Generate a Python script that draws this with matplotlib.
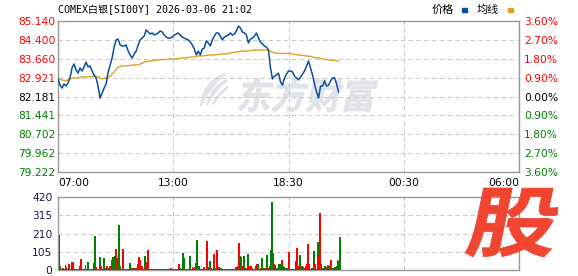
import matplotlib
matplotlib.use('Agg')
import matplotlib.pyplot as plt
import numpy as np
from matplotlib.textpath import TextPath
from matplotlib.patches import PathPatch, Rectangle
from matplotlib.path import Path
from matplotlib.font_manager import FontProperties
from matplotlib.transforms import Affine2D, IdentityTransform

plt.rcParams['font.family'] = ['DejaVu Sans', 'Noto Sans CJK SC']

title = 'COMEX白银[SI00Y] 2026-03-06 21:02'
prev_close = 82.181
price_ticks = ['85.140', '84.400', '83.660', '82.921', '82.181',
               '81.441', '80.702', '79.962', '79.222']
pct_ticks = ['3.60%', '2.70%', '1.80%', '0.90%', '0.00%',
             '0.90%', '1.80%', '2.70%', '3.60%']
time_labels = ['07:00', '13:00', '18:30', '00:30', '06:00']
total_minutes = 1380

# price every 6 minutes from 07:00
price_step = 6
price = [82.87, 82.63, 82.51, 82.67, 82.59, 82.71, 82.91, 83.30, 83.46, 83.22,
         83.10, 83.30, 83.18, 83.34, 83.53, 83.34, 83.38, 83.18, 83.02, 82.91,
         82.59, 82.12, 82.32, 82.51, 82.67, 83.14, 83.42, 83.69, 84.12, 84.40,
         84.43, 84.20, 84.16, 84.16, 84.20, 83.96, 83.81, 83.69, 83.85, 83.96,
         84.20, 84.40, 84.47, 84.55, 84.79, 84.71, 84.63, 84.67, 84.59, 84.63,
         84.67, 84.75, 84.71, 84.59, 84.51, 84.47, 84.47, 84.51, 84.59, 84.63,
         84.67, 84.59, 84.51, 84.47, 84.43, 84.40, 84.32, 84.20, 84.04, 83.81,
         83.96, 83.81, 84.04, 84.08, 84.36, 84.28, 84.16, 84.40, 84.55, 84.67,
         84.67, 84.55, 84.40, 84.51, 84.55, 84.59, 84.67, 84.59, 84.63, 84.75,
         84.94, 84.87, 84.71, 84.67, 84.59, 84.28, 84.43, 84.47, 84.55, 84.67,
         84.47, 84.32, 84.24, 84.16, 84.12, 84.00, 83.30, 82.87, 82.98, 83.02,
         83.10, 82.75, 82.63, 82.91, 83.06, 83.18, 83.18, 83.14, 82.98, 82.91,
         82.83, 82.95, 83.06, 83.18, 83.38, 83.57, 83.30, 83.02, 82.67, 82.36,
         82.12, 82.59, 82.59, 82.79, 82.59, 82.63, 82.79, 82.91, 82.91, 82.67,
         82.36]

# average line every 12 minutes
avg_step = 12
avg_price = [82.91, 82.83, 82.79, 82.87, 82.91, 82.91, 82.95, 82.95, 82.95, 82.98,
             82.95, 82.87, 82.91, 82.98, 83.14, 83.34, 83.38, 83.38, 83.40, 83.42,
             83.42, 83.49, 83.55, 83.57, 83.59, 83.61, 83.63, 83.63, 83.65, 83.65,
             83.67, 83.69, 83.69, 83.73, 83.73, 83.77, 83.77, 83.79, 83.81, 83.81,
             83.83, 83.85, 83.85, 83.89, 83.91, 83.93, 83.96, 83.96, 83.98, 84.00,
             84.00, 84.00, 84.00, 83.96, 83.89, 83.87, 83.87, 83.87, 83.87, 83.83,
             83.81, 83.79, 83.77, 83.75, 83.71, 83.69, 83.65, 83.63, 83.61, 83.59,
             83.57]

# volume bars: minute from 07:00, volume, 1 = up (red) / 0 = down (green)
vol_min = [3, 6, 9, 12, 15, 18, 21, 24, 28, 31, 36, 40, 43, 47, 51, 55, 59, 64, 67, 71,
           75, 78, 81, 85, 88, 92, 96, 100, 104, 106, 109, 112, 116, 120, 124, 127, 131, 136, 141, 146,
           149, 154, 159, 163, 166, 169, 172, 175, 178, 181, 184, 188, 193, 197, 201, 205, 209, 214, 219, 223,
           226, 231, 235, 238, 241, 244, 249, 253, 256, 259, 262, 265, 268, 272, 276, 280, 284, 288, 292, 296,
           300, 304, 308, 312, 316, 320, 324, 328, 332, 336, 340, 344, 348, 352, 356, 361, 364, 368, 371, 373,
           376, 380, 384, 388, 391, 394, 398, 401, 406, 409, 412, 415, 418, 421, 424, 428, 431, 435, 440, 445,
           450, 453, 456, 460, 465, 468, 472, 475, 480, 483, 487, 490, 495, 499, 503, 507, 511, 515, 519, 523,
           527, 532, 536, 538, 541, 544, 547, 550, 553, 556, 560, 564, 568, 570, 575, 580, 584, 589, 592, 595,
           598, 602, 605, 608, 612, 615, 618, 622, 625, 630, 633, 637, 640, 643, 646, 649, 653, 657, 660, 663,
           666, 670, 673, 676, 680, 682, 688, 691, 695, 700, 704, 708, 712, 715, 718, 721, 724, 727, 730, 733,
           736, 740, 743, 745, 748, 751, 755, 760, 763, 766, 769, 773, 778, 781, 784, 787, 790, 793, 796, 799,
           802, 805, 808, 811, 814, 817, 820, 823, 826, 829, 832, 835, 838, 840, 841, 842]
vol_val = [200, 23, 8, 10, 10, 8, 29, 19, 6, 34, 5, 46, 46, 5, 6, 5, 6, 23, 63, 5,
           5, 6, 29, 5, 46, 6, 6, 6, 5, 40, 195, 17, 5, 6, 74, 23, 5, 69, 11, 23,
           11, 23, 57, 74, 57, 80, 120, 69, 34, 258, 23, 5, 120, 5, 5, 5, 5, 40, 11, 5,
           11, 11, 5, 34, 74, 57, 23, 6, 5, 80, 46, 5, 115, 3, 3, 3, 3, 3, 3, 3,
           3, 3, 3, 3, 3, 3, 3, 3, 3, 11, 3, 3, 3, 3, 3, 34, 11, 5, 11, 97,
           69, 5, 5, 5, 5, 80, 5, 17, 11, 17, 40, 172, 5, 23, 8, 5, 5, 17, 5, 166,
           17, 52, 11, 5, 92, 11, 5, 115, 17, 11, 11, 5, 3, 3, 3, 3, 3, 3, 3, 3,
           3, 17, 5, 23, 155, 80, 74, 23, 5, 80, 11, 5, 92, 23, 23, 11, 5, 8, 23, 34,
           34, 5, 11, 69, 5, 11, 11, 5, 86, 11, 23, 115, 392, 97, 34, 29, 11, 5, 34, 34,
           5, 57, 23, 17, 5, 11, 11, 103, 5, 5, 5, 5, 52, 126, 23, 17, 86, 5, 23, 17,
           11, 23, 5, 34, 149, 34, 5, 11, 5, 109, 34, 5, 160, 86, 327, 34, 11, 5, 11, 23,
           17, 5, 29, 23, 5, 57, 5, 11, 5, 17, 23, 57, 46, 52, 80, 189]
vol_up = [1, 0, 1, 1, 1, 1, 0, 1, 0, 1, 0, 1, 1, 0, 0, 0, 0, 0, 1, 1,
          0, 1, 1, 0, 0, 1, 1, 1, 1, 0, 0, 1, 0, 1, 0, 1, 0, 0, 1, 1,
          0, 1, 1, 0, 1, 0, 1, 1, 1, 0, 0, 0, 1, 0, 0, 1, 0, 0, 1, 0,
          0, 1, 0, 1, 1, 1, 1, 0, 0, 0, 1, 0, 1, 0, 0, 0, 0, 0, 0, 0,
          0, 0, 0, 0, 0, 0, 0, 0, 0, 1, 0, 0, 1, 0, 0, 1, 0, 0, 1, 0,
          0, 1, 0, 1, 0, 0, 0, 1, 0, 1, 0, 0, 1, 0, 0, 1, 0, 1, 0, 1,
          0, 0, 1, 0, 1, 0, 0, 1, 1, 0, 0, 0, 0, 0, 0, 0, 0, 0, 0, 0,
          0, 1, 0, 1, 1, 0, 0, 1, 0, 0, 1, 0, 0, 1, 1, 1, 0, 0, 0, 1,
          0, 0, 1, 0, 0, 0, 1, 0, 0, 1, 1, 0, 0, 0, 1, 1, 0, 0, 0, 0,
          0, 1, 0, 0, 0, 0, 1, 1, 0, 0, 1, 0, 0, 1, 1, 1, 0, 0, 1, 0,
          1, 0, 0, 1, 1, 1, 0, 0, 0, 0, 1, 0, 0, 1, 1, 1, 0, 0, 1, 0,
          1, 0, 1, 0, 0, 1, 0, 0, 0, 0, 0, 0, 0, 0, 1, 0]

RED, GREEN, BLACK = '#FF0000', '#008000', '#000000'
BLUE, GOLD = '#0A4FA0', '#E0A020'
GRIDC, SPINEC = '#CCCCCC', '#999999'
WMARK = '#E2E3E8'
W, H = 578, 276

fig = plt.figure(figsize=(W / 100, H / 100), dpi=100)
fig.patch.set_facecolor('white')


def skew_text(s, box, color, parent, slant=12, weight='bold', zorder=0.5):
    fp = FontProperties(family='Noto Sans CJK SC', weight=weight)
    tp = TextPath((0, 0), s, prop=fp, size=100)
    sk = Affine2D().skew_deg(slant, 0).transform_path(tp)
    e = sk.get_extents()
    x0, y0, x1, y1 = box
    tr = Affine2D().translate(-e.x0, -e.y0).scale((x1 - x0) / e.width, (y1 - y0) / e.height).translate(x0, y0)
    patch = PathPatch(tr.transform_path(sk), facecolor=color, edgecolor=color, linewidth=0.6,
                      transform=IdentityTransform(), zorder=zorder)
    parent.add_artist(patch)
    return patch


def style_axes(ax):
    for sp in ax.spines.values():
        sp.set_color(SPINEC)
        sp.set_linewidth(1.0)
    ax.tick_params(length=0)
    ax.grid(True, color=GRIDC, linestyle=(0, (4, 3)), linewidth=0.8)
    ax.set_xticks(np.linspace(0, total_minutes, len(time_labels)))


# main price panel
ax = fig.add_axes([58 / W, 1 - 172 / H, 461 / W, 151 / H])
style_axes(ax)
ax.plot(np.arange(len(price)) * price_step, price, color=BLUE, lw=1.1, zorder=3)
ax.plot(np.arange(len(avg_price)) * avg_step, avg_price, color=GOLD, lw=1.0, zorder=2)
ax.set_xlim(0, total_minutes)
lo, hi = float(price_ticks[-1]), float(price_ticks[0])
ax.set_ylim(lo, hi)
yt = np.linspace(hi, lo, len(price_ticks))
ax.set_yticks(yt)
ax.set_yticklabels(price_ticks, fontsize=7.7)
for lab, v in zip(ax.get_yticklabels(), yt):
    lab.set_color(RED if v > prev_close + 1e-6 else (GREEN if v < prev_close - 1e-6 else BLACK))
ax.tick_params(axis='y', pad=2)
ax.set_xticklabels(time_labels, fontsize=7.7)
ax.tick_params(axis='x', pad=4)
xl = ax.get_xticklabels()
xl[0].set_ha('left')
xl[-1].set_ha('right')

ax2 = ax.twinx()
ax2.set_ylim(lo, hi)
ax2.set_yticks(yt)
ax2.set_yticklabels(pct_ticks, fontsize=7.7)
for lab, v in zip(ax2.get_yticklabels(), yt):
    lab.set_color(RED if v > prev_close + 1e-6 else (GREEN if v < prev_close - 1e-6 else BLACK))
ax2.tick_params(length=0, pad=3.5)
for sp in ax2.spines.values():
    sp.set_visible(False)

# watermark: swoosh logo + name
logo_parts = [
    [(201, 170), (203, 194), (225, 202), (209, 189), (201, 170)],
    [(207, 171), (211, 189), (227, 196), (214, 185), (207, 171)],
    [(213, 172), (218, 184), (228, 189), (219, 181), (213, 172)],
]
for pts in logo_parts:
    codes = [Path.MOVETO, Path.CURVE3, Path.CURVE3, Path.CURVE3, Path.CURVE3]
    ax.add_artist(PathPatch(Path(pts, codes), facecolor=WMARK, edgecolor=WMARK, lw=1.5,
                            transform=IdentityTransform(), zorder=0.5))
skew_text('东方财富', (238, H - 112, 378, H - 78), WMARK, ax, slant=12)

# volume panel
axv = fig.add_axes([58 / W, 1 - 270 / H, 461 / W, 73 / H])
style_axes(axv)
cols = [RED if u else GREEN for u in vol_up]
axv.bar(vol_min, vol_val, width=2.6, color=cols, edgecolor=cols, linewidth=0.5,
        antialiased=False, zorder=3)
axv.set_xlim(0, total_minutes)
axv.set_ylim(0, 420)
axv.set_yticks([0, 105, 210, 315, 420])
axv.set_yticklabels(['0', '105', '210', '315', '420'], fontsize=7.7, color='#10184A')
axv.tick_params(axis='y', pad=4)
axv.set_xticklabels([])

# header
fig.text(58 / W, 1 - 10 / H, title, fontsize=7.2, va='center', ha='left',
         family=['DejaVu Sans Mono', 'Noto Sans CJK SC'])
fig.text(432 / W, 1 - 10 / H, '价格', fontsize=8, va='center', ha='left', family=['Noto Sans CJK SC'])
fig.text(477 / W, 1 - 10 / H, '均线', fontsize=8, va='center', ha='left', family=['Noto Sans CJK SC'])
fig.add_artist(Rectangle((462 / W, 1 - 11.5 / H), 5 / W, 3 / H, color=BLUE, transform=fig.transFigure))
fig.add_artist(Rectangle((508 / W, 1 - 11.5 / H), 5 / W, 3 / H, color=GOLD, transform=fig.transFigure))

# stock badge
skew_text('股', (465, H - 257, 558, H - 188), '#F04530', fig, slant=10, weight='heavy', zorder=10)

fig.savefig('out.png', dpi=100)
